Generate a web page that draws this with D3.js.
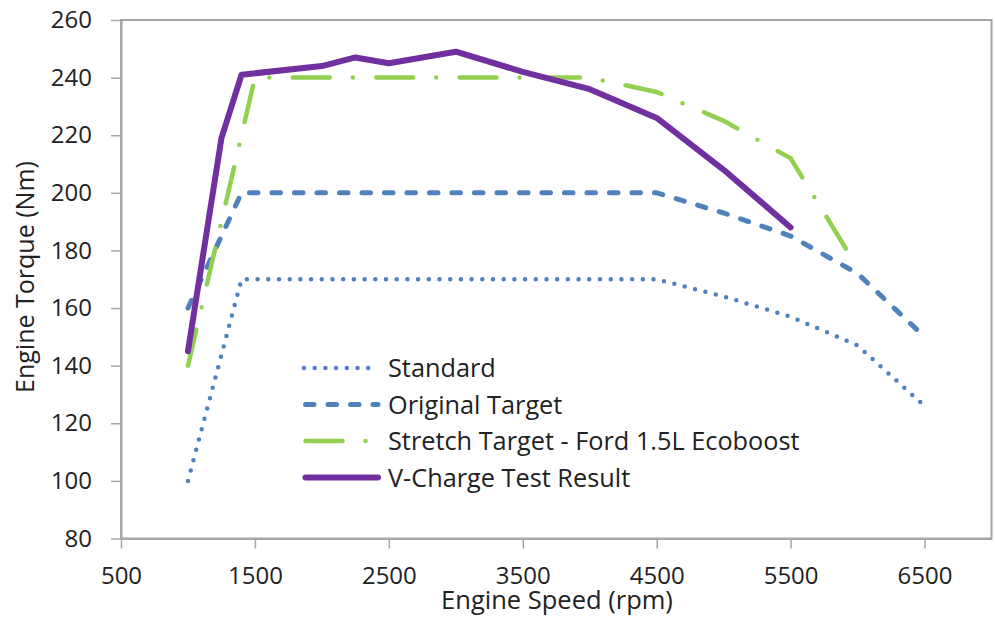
<!DOCTYPE html>
<html>
<head>
<meta charset="utf-8">
<script src="https://cdn.jsdelivr.net/npm/d3@7"></script>
<style>
  html, body { margin: 0; padding: 0; background: #fff; }
  svg { display: block; font-family: "Open Sans", Lato, sans-serif; }
</style>
</head>
<body>
<svg id="chart" width="995" height="617"></svg>
<script>
// series data
const standardRpm = [1000, 1400, 4500, 5000, 5500, 6000, 6500];
const standardNm = [100, 170, 170, 164, 157, 147, 126];

const originalRpm = [1000, 1400, 4500, 5000, 5500, 6000, 6500];
const originalNm = [160, 200, 200, 193, 185, 172, 150];

const stretchRpm = [1000, 1250, 1500, 4000, 4500, 5000, 5500, 6000];
const stretchNm = [140, 190, 240, 240, 235, 225, 212, 174];

const vchargeRpm = [1000, 1250, 1400, 2000, 2250, 2500, 3000, 3500, 4000, 4500, 5000, 5500];
const vchargeNm = [145, 219, 241, 244, 247, 245, 249, 242, 236, 226, 208, 188];

const seriesNames = ['Standard', 'Original Target', 'Stretch Target - Ford 1.5L Ecoboost', 'V-Charge Test Result'];
const xTicks = [500, 1500, 2500, 3500, 4500, 5500, 6500];
const yTicks = [80, 100, 120, 140, 160, 180, 200, 220, 240, 260];

const width = 995, height = 617;
const margin = {top: 20, right: 3.5, bottom: 78.5, left: 121};

const x = d3.scaleLinear().domain([500, 7000]).range([margin.left, width - margin.right]);
const y = d3.scaleLinear().domain([80, 260]).range([height - margin.bottom, margin.top]);

const styles = [
  {color: '#4f81bd', width: 4.5, dash: '0 10.7'},
  {color: '#4f81bd', width: 5, dash: '8.5 14'},
  {color: '#92d050', width: 4.5, dash: '37 23 0 23.4'},
  {color: '#7030a0', width: 6, dash: null}
];

const series = [
  d3.zip(standardRpm, standardNm),
  d3.zip(originalRpm, originalNm),
  d3.zip(stretchRpm, stretchNm),
  d3.zip(vchargeRpm, vchargeNm)
];

const svg = d3.select('#chart');
const textColor = '#222';
const gridGray = '#a6a6a6';

// plot frame
svg.append('rect')
  .attr('x', margin.left)
  .attr('y', margin.top)
  .attr('width', width - margin.right - margin.left)
  .attr('height', height - margin.bottom - margin.top)
  .attr('fill', 'none')
  .attr('stroke', gridGray)
  .attr('stroke-width', 2);

// y axis
let yAxis = svg.append('g')
  .attr('transform', `translate(${margin.left},0)`)
  .call(d3.axisLeft(y).tickValues(yTicks).tickSize(10).tickPadding(19).tickSizeOuter(0));
yAxis.select('.domain').attr('stroke', gridGray).attr('stroke-width', 2);
yAxis.selectAll('.tick line').attr('stroke', gridGray).attr('stroke-width', 1.5);
yAxis.selectAll('.tick text')
  .attr('fill', textColor)
  .style('font-size', '24px')
  .style('font-family', '"Open Sans", sans-serif');

// x axis
let xAxis = svg.append('g')
  .attr('transform', `translate(0,${height - margin.bottom})`)
  .call(d3.axisBottom(x).tickValues(xTicks).tickFormat(d3.format('d')).tickSize(10).tickSizeOuter(0));
xAxis.select('.domain').attr('stroke', gridGray).attr('stroke-width', 2);
xAxis.selectAll('.tick line').attr('stroke', gridGray).attr('stroke-width', 1.5);
xAxis.selectAll('.tick text')
  .attr('fill', textColor)
  .attr('y', 45.5)
  .attr('dy', null)
  .style('font-size', '24px')
  .style('font-family', '"Open Sans", sans-serif');

// axis titles
svg.append('text')
  .attr('x', 557)
  .attr('y', 609)
  .attr('text-anchor', 'middle')
  .attr('fill', textColor)
  .style('font-size', '25.5px')
  .text('Engine Speed (rpm)');

svg.append('text')
  .attr('transform', 'translate(34,277) rotate(-90)')
  .attr('text-anchor', 'middle')
  .attr('fill', textColor)
  .style('font-size', '25px')
  .text('Engine Torque (Nm)');

// lines
let line = d3.line()
  .x((d) => x(d[0]))
  .y((d) => y(d[1]));

svg.append('g')
  .selectAll('path')
  .data(series)
  .enter()
  .append('path')
  .attr('d', line)
  .attr('fill', 'none')
  .attr('stroke', (d, i) => styles[i].color)
  .attr('stroke-width', (d, i) => styles[i].width)
  .attr('stroke-dasharray', (d, i) => styles[i].dash)
  .attr('stroke-linecap', 'round')
  .attr('stroke-linejoin', 'round');

// legend
let legend = svg.append('g')
  .selectAll('.legend')
  .data(seriesNames)
  .enter()
  .append('g')
  .attr('class', 'legend')
  .attr('transform', (d, i) => `translate(303,${368 + i * 36.5})`);

legend.append('line')
  .attr('x1', (d, i) => i === 0 ? 1 : 2.5)
  .attr('x2', (d, i) => i === 2 ? 66 : 75)
  .attr('stroke', (d, i) => styles[i].color)
  .attr('stroke-width', (d, i) => styles[i].width)
  .attr('stroke-dasharray', (d, i) => styles[i].dash)
  .attr('stroke-linecap', 'round');

legend.append('text')
  .attr('x', 85)
  .attr('y', 9)
  .attr('fill', textColor)
  .style('font-size', '25.3px')
  .text((d) => d);
</script>
</body>
</html>
